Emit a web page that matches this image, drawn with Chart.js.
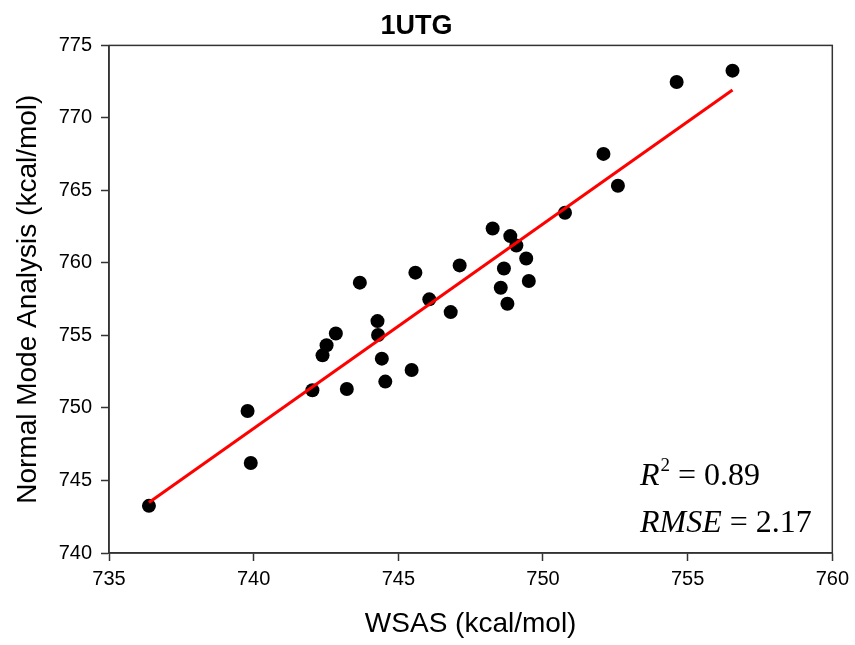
<!DOCTYPE html>
<html>
<head>
<meta charset="utf-8">
<script src="https://cdn.jsdelivr.net/npm/chart.js@4/dist/chart.umd.min.js"></script>
<style>
  html, body { margin: 0; padding: 0; background: #fff; }
  #wrap { width: 855px; height: 645px; }
</style>
</head>
<body>
<div id="wrap"><canvas id="chart"></canvas></div>
<script>
// --- data ---
const wsas = [736.38, 739.79, 739.90, 742.03, 742.38, 742.52, 742.84, 743.22, 743.67, 744.28,
              744.30, 744.43, 744.55, 745.46, 745.59, 746.07, 746.81, 747.12, 748.26, 748.54,
              748.65, 748.77, 748.87, 749.08, 749.42, 749.51, 750.76, 752.09, 752.59, 754.62, 756.55];
const nma  = [743.25, 749.79, 746.21, 751.22, 753.63, 754.32, 755.14, 751.31, 758.64, 755.99,
              755.03, 753.40, 751.82, 752.62, 759.33, 757.49, 756.61, 759.83, 762.38, 758.29,
              759.62, 757.19, 761.85, 761.20, 760.31, 758.75, 763.46, 767.52, 765.32, 772.48, 773.26];
// regression line end points
const fitX = [736.38, 756.55];
const fitY = [743.48, 771.93];
const xTicks = [735, 740, 745, 750, 755, 760];
const yTicks = [740, 745, 750, 755, 760, 765, 770, 775];
const r2Text = '0.89';
const rmseText = '2.17';

const pts = wsas.map((x, i) => ({ x: x, y: nma[i] }));
const fitPts = fitX.map((x, i) => ({ x: x, y: fitY[i] }));

// frame round the plot + the R^2 / RMSE note
const framePlugin = {
    id: 'frame',
    afterDatasetsDraw(chart) {
        const { ctx, chartArea: a } = chart;
        ctx.save();
        ctx.strokeStyle = '#333';
        ctx.lineWidth = 1.5;
        ctx.strokeRect(a.left, a.top, a.right - a.left, a.bottom - a.top);

        const serif = '"Liberation Serif", "Times New Roman", serif';
        const drawLine = (x, y, label, sup, value) => {
            ctx.fillStyle = '#000';
            ctx.textBaseline = 'alphabetic';
            ctx.textAlign = 'left';
            ctx.font = 'italic 32px ' + serif;
            ctx.fillText(label, x, y);
            x += ctx.measureText(label).width;
            if (sup) {
                ctx.font = '19px ' + serif;
                ctx.fillText(sup, x + 1, y - 14);
                x += ctx.measureText(sup).width + 1;
            }
            ctx.font = '32px ' + serif;
            ctx.fillText(' = ' + value, x, y);
        };
        drawLine(a.left + 531, a.bottom - 68, 'R', '2', r2Text);
        drawLine(a.left + 531, a.bottom - 21, 'RMSE', '', rmseText);
        ctx.restore();
    }
};

const sans = 'Arial, "Liberation Sans", sans-serif';

new Chart(document.getElementById('chart'), {
    type: 'scatter',
    data: {
        datasets: [
            {
                label: 'fit',
                type: 'line',
                data: fitPts,
                borderColor: '#ff0000',
                borderWidth: 3,
                pointRadius: 0,
                fill: false
            },
            {
                label: '1UTG',
                data: pts,
                backgroundColor: '#000',
                borderColor: '#000',
                borderWidth: 0,
                pointRadius: 7
            }
        ]
    },
    options: {
        responsive: true,
        maintainAspectRatio: false,
        animation: false,
        layout: { padding: { left: 0, right: 22, top: 0, bottom: 4 } },
        plugins: {
            legend: { display: false },
            tooltip: { enabled: false },
            title: {
                display: true,
                text: '1UTG',
                color: '#000',
                font: { family: sans, size: 27, weight: 'bold' },
                padding: { top: 10, bottom: 3 }
            }
        },
        scales: {
            x: {
                type: 'linear',
                min: 735, max: 760,
                afterBuildTicks: s => { s.ticks = xTicks.map(v => ({ value: v })); },
                ticks: { color: '#000', font: { family: sans, size: 20 }, padding: 6 },
                grid: { drawOnChartArea: false, drawTicks: true, tickLength: 8, tickColor: '#333', tickWidth: 1.5 },
                border: { display: true, color: '#333', width: 1.5 },
                title: { display: true, text: 'WSAS (kcal/mol)', color: '#000', font: { family: sans, size: 28 }, padding: 0 },
                afterFit: s => { s.height = 88; }
            },
            y: {
                type: 'linear',
                min: 740, max: 775,
                afterBuildTicks: s => { s.ticks = yTicks.map(v => ({ value: v })); },
                ticks: { color: '#000', font: { family: sans, size: 20 }, padding: 9 },
                grid: { drawOnChartArea: false, drawTicks: true, tickLength: 8, tickColor: '#333', tickWidth: 1.5 },
                border: { display: true, color: '#333', width: 1.5 },
                title: { display: true, text: 'Normal Mode Analysis (kcal/mol)', color: '#000', font: { family: sans, size: 28 }, padding: { top: 11, bottom: 0 } },
                afterFit: s => { s.width = 109; }
            }
        }
    },
    plugins: [framePlugin]
});
</script>
</body>
</html>
